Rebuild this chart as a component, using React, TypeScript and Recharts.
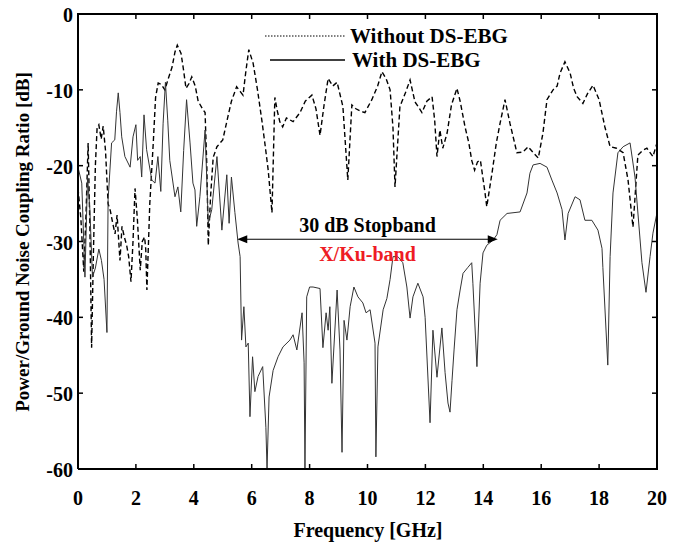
import { LineChart, Line, XAxis, YAxis, ReferenceLine } from 'recharts'

// Without DS-EBG (dashed)
const withoutFreq = [
  0, 0.1, 0.2, 0.28, 0.35, 0.41, 0.47, 0.53, 0.6, 0.66, 0.72, 0.8, 0.87, 0.95, 1.04, 1.12, 1.2, 1.28, 1.35, 1.45,
  1.52, 1.6, 1.68, 1.75, 1.83, 1.9, 1.97, 2.05, 2.15, 2.22, 2.3, 2.34, 2.38, 2.48, 2.6, 2.68, 2.77, 2.88, 3.0, 3.12,
  3.25, 3.35, 3.43, 3.56, 3.65, 3.73, 3.83, 3.93, 4.05, 4.15, 4.3, 4.39, 4.45, 4.5, 4.58, 4.67, 4.8, 5.0, 5.18, 5.3,
  5.48, 5.6, 5.7, 5.8, 5.9, 6.05, 6.2, 6.35, 6.47, 6.57, 6.7, 6.8, 6.88, 6.97, 7.07, 7.2, 7.43, 7.67, 7.85, 8.08,
  8.22, 8.36, 8.5, 8.64, 8.8, 8.95, 9.15, 9.32, 9.46, 9.6, 9.75, 9.91, 10.15, 10.35, 10.5, 10.65, 10.78, 10.88, 10.95, 11.12,
  11.3, 11.47, 11.64, 11.75, 11.88, 12.05, 12.23, 12.32, 12.4, 12.5, 12.6, 12.75, 12.9, 13.09, 13.2, 13.37, 13.5, 13.6, 13.7, 13.8,
  13.9, 14.06, 14.12, 14.3, 14.45, 14.58, 14.75, 14.92, 15.05, 15.16, 15.37, 15.55, 15.73, 15.9, 16.06, 16.2, 16.41, 16.55, 16.65, 16.82,
  17.0, 17.12, 17.24, 17.44, 17.6, 17.79, 18.0, 18.2, 18.38, 18.6, 18.83, 19.0, 19.17, 19.34, 19.5, 19.65, 19.86, 20.0,
]
const withoutDb = [
  -23, -27, -34, -26, -17, -28, -44, -32, -20, -15, -14.6, -16.5, -14.8, -18, -25, -26, -27.6, -29, -26.5, -32.5,
  -28, -29.4, -30.5, -32, -35.3, -30, -23, -27, -33.8, -30, -29.4, -31, -36.4, -25, -17, -11, -9.1, -9.3, -10, -8.5,
  -7, -5, -4.1, -5.2, -7.5, -9.8, -9.2, -8.3, -9.5, -11.5, -12.5, -13, -20, -30.5, -24, -18.9, -17.5, -16.6, -13.5, -11.5,
  -9.6, -10.2, -10.7, -7.5, -4.7, -6.5, -10, -14, -17.5, -20.6, -26.2, -11, -12.7, -14.2, -14.9, -13.7, -14.2, -13, -11.5, -10.7,
  -12.5, -16, -12, -8.5, -9.5, -9, -12.2, -21.9, -12, -12.5, -12.8, -13, -11.3, -9.5, -7.6, -8.6, -10, -15, -22.8, -12.2,
  -10.5, -8.7, -11.6, -12.2, -13, -11.5, -10.9, -14, -18.8, -15.3, -17.7, -15.7, -12, -9.8, -11.5, -14.9, -17, -19.3, -20.6, -19.5,
  -19.3, -23.6, -25.4, -21, -17, -14.4, -11.3, -14.4, -16.5, -18.3, -18.2, -17.5, -18.3, -19, -15.7, -11.3, -10, -9.5, -7.8, -6.3,
  -7.8, -9.8, -10.9, -11.8, -10.5, -9.4, -11.3, -14.9, -17.5, -17.7, -18.3, -21.9, -28.1, -18.6, -18, -17.7, -18.8, -17,
]

// With DS-EBG (solid)
const withFreq = [
  0, 0.13, 0.24, 0.33, 0.41, 0.5, 0.6, 0.72, 0.81, 0.9, 1.0, 1.04, 1.16, 1.27, 1.33, 1.39, 1.45, 1.51, 1.62, 1.8,
  1.9, 2.0, 2.06, 2.15, 2.2, 2.28, 2.37, 2.55, 2.66, 2.76, 2.86, 2.94, 3.02, 3.1, 3.17, 3.35, 3.45, 3.55, 3.65, 3.75,
  3.87, 3.97, 4.04, 4.1, 4.21, 4.39, 4.5, 4.62, 4.8, 4.97, 5.14, 5.22, 5.3, 5.42, 5.53, 5.6, 5.65, 5.73, 5.8, 5.88,
  5.94, 6.03, 6.11, 6.22, 6.38, 6.49, 6.53, 6.6, 6.74, 6.91, 7.08, 7.32, 7.43, 7.56, 7.74, 7.81, 7.84, 7.9, 8.0, 8.12,
  8.36, 8.46, 8.57, 8.64, 8.7, 8.77, 8.95, 9.05, 9.12, 9.19, 9.29, 9.4, 9.53, 9.67, 9.84, 9.95, 10.09, 10.26, 10.29, 10.36,
  10.54, 10.67, 10.78, 10.88, 11.05, 11.22, 11.36, 11.47, 11.57, 11.74, 11.92, 11.99, 12.16, 12.26, 12.4, 12.57, 12.68, 12.78, 12.85, 12.92,
  12.99, 13.09, 13.2, 13.3, 13.47, 13.6, 13.64, 13.78, 13.89, 13.99, 14.12, 14.34, 14.47, 14.58, 14.82, 15.27, 15.51, 15.61, 15.72, 15.96,
  16.2, 16.37, 16.55, 16.72, 16.82, 16.93, 17.17, 17.34, 17.51, 17.75, 17.96, 18.1, 18.13, 18.3, 18.38, 18.48, 18.65, 18.83, 19.07, 19.24,
  19.48, 19.62, 19.76, 19.86, 20,
]
const withDb = [
  -20.2, -22.3, -34.7, -21.5, -25.8, -34.7, -33.5, -31, -32.5, -35, -42, -24.5, -17, -16.6, -12.9, -10.4, -13, -16.2, -18.8, -20.2,
  -16.2, -14.6, -19.3, -18.8, -21.5, -13.3, -17.9, -21.9, -22.3, -18.8, -23.4, -14.4, -9, -14, -19.3, -24.1, -22.8, -26.1, -18, -11.3,
  -17, -22.3, -23.2, -28, -24.1, -15.3, -27.6, -25.8, -18.8, -28.5, -21.2, -27.6, -21.5, -26.2, -30.2, -32, -43, -38.6, -43.9, -43.4,
  -53.1, -45.2, -49.8, -47.8, -46.5, -54.5, -60, -50.5, -47, -45.2, -43.9, -43, -42.3, -44.3, -39.4, -46, -60, -37.3, -36, -36,
  -36.2, -44, -39.4, -41.7, -38.6, -48.7, -36.4, -44.3, -57.8, -40.4, -43, -38.6, -36, -37.3, -38.1, -39.4, -39, -43.4, -58.4, -43.9,
  -39, -37.5, -35, -32, -32, -32.8, -36, -40.1, -37.3, -35.5, -37.3, -40, -53.9, -41.7, -47.9, -41.4, -47.3, -51.3, -52.5, -48.3,
  -44.3, -39, -36.4, -34.2, -33.4, -32.8, -35.5, -46.5, -35.5, -31.5, -30.5, -29.8, -29.1, -27.2, -26.3, -26.1, -23.6, -21, -19.9, -19.7,
  -20.2, -21.9, -23.6, -25.8, -29.8, -26.3, -24.1, -24.5, -27.2, -27.2, -28.5, -30.9, -33.4, -46.3, -32, -23.6, -18.3, -17.5, -17, -21.5,
  -32.8, -36.7, -32, -28.9, -26.2,
]

const freqTicks = [0, 2, 4, 6, 8, 10, 12, 14, 16, 18, 20]
const dbTicks = [-60, -50, -40, -30, -20, -10, 0]
const freqMin = 0
const freqMax = 20
const dbMin = -60
const dbMax = 0

// stopband arrow
const stopStart = 5.5
const stopEnd = 14.5
const stopLevel = -29.7

const withoutData = withoutFreq.map((f, i) => ({ f, db: withoutDb[i] }))
const withData = withFreq.map((f, i) => ({ f, db: withDb[i] }))

// chart box (same numbers feed the LineChart margins)
const W = 683
const H = 548
const M = { top: 14, right: 26, left: 18, bottom: 39 }
const Y_AXIS_W = 60
const X_AXIS_H = 40
const plotLeft = M.left + Y_AXIS_W
const plotRight = W - M.right
const plotTop = M.top
const plotBottom = H - M.bottom - X_AXIS_H

const FONT = '"Liberation Serif", "Times New Roman", serif'

const XTick = ({ x, y, payload }: any) => (
  <g>
    <line x1={x} y1={y} x2={x} y2={y - 5} stroke="#000" strokeWidth={1.5} />
    <text x={x} y={y + 29} textAnchor="middle" dominantBaseline="central" fontFamily={FONT} fontWeight="bold" fontSize={20} fill="#000">
      {payload.value}
    </text>
  </g>
)

const YTick = ({ x, y, payload }: any) => (
  <g>
    <line x1={x} y1={y} x2={x + 5} y2={y} stroke="#000" strokeWidth={1.5} />
    <text x={x - 5} y={y + 1} textAnchor="end" dominantBaseline="central" fontFamily={FONT} fontWeight="bold" fontSize={20} fill="#000">
      {payload.value}
    </text>
  </g>
)

const StopbandArrow = ({ x1, y1, x2, y2 }: any) => {
  const cx = (x1 + x2) / 2
  return (
    <g>
      <line x1={x1 + 8} y1={y1} x2={x2 - 8} y2={y2} stroke="#000" strokeWidth={1.2} />
      <polygon points={`${x1},${y1} ${x1 + 10},${y1 - 4} ${x1 + 10},${y1 + 4}`} fill="#000" />
      <polygon points={`${x2},${y2} ${x2 - 10},${y2 - 4} ${x2 - 10},${y2 + 4}`} fill="#000" />
      <text x={cx} y={y1 - 14} textAnchor="middle" dominantBaseline="central" fontFamily={FONT} fontWeight="bold" fontSize={20} fill="#000">
        30 dB Stopband
      </text>
      <text x={cx} y={y1 + 15} textAnchor="middle" dominantBaseline="central" fontFamily={FONT} fontWeight="bold" fontSize={20} fill="#ee1c24">
        X/Ku-band
      </text>
    </g>
  )
}

// top/right edges of the MATLAB-style box, with inward ticks
const Frame = () => {
  const fx = (f: number) => plotLeft + ((f - freqMin) / (freqMax - freqMin)) * (plotRight - plotLeft)
  const dy = (d: number) => plotTop + ((dbMax - d) / (dbMax - dbMin)) * (plotBottom - plotTop)
  return (
    <g>
      <line x1={plotLeft - 1} y1={plotTop} x2={plotRight + 1} y2={plotTop} stroke="#000" strokeWidth={2} />
      <line x1={plotRight} y1={plotTop} x2={plotRight} y2={plotBottom + 1} stroke="#000" strokeWidth={2} />
      {freqTicks.map((t) => (
        <line key={`t${t}`} x1={fx(t)} y1={plotTop} x2={fx(t)} y2={plotTop + 5} stroke="#000" strokeWidth={1.5} />
      ))}
      {dbTicks.map((t) => (
        <line key={`r${t}`} x1={plotRight} y1={dy(t)} x2={plotRight - 5} y2={dy(t)} stroke="#000" strokeWidth={1.5} />
      ))}
    </g>
  )
}

export default function App() {
  return (
    <div style={{ position: 'absolute', left: 0, top: 0, width: W, height: H, background: '#fff' }}>
      <LineChart width={W} height={H} margin={M}>
        <XAxis
          dataKey="f"
          type="number"
          domain={[freqMin, freqMax]}
          ticks={freqTicks}
          interval={0}
          height={X_AXIS_H}
          tickSize={0}
          tickMargin={0}
          axisLine={{ stroke: '#000', strokeWidth: 2 }}
          tick={<XTick />}
          allowDataOverflow
        />
        <YAxis
          type="number"
          domain={[dbMin, dbMax]}
          ticks={dbTicks}
          interval={0}
          width={Y_AXIS_W}
          tickSize={0}
          tickMargin={0}
          axisLine={{ stroke: '#000', strokeWidth: 2 }}
          tick={<YTick />}
          allowDataOverflow
        />
        <Line
          data={withoutData}
          dataKey="db"
          type="linear"
          stroke="#000"
          strokeWidth={1.4}
          strokeDasharray="5 3"
          dot={false}
          isAnimationActive={false}
          name="Without DS-EBG"
        />
        <Line
          data={withData}
          dataKey="db"
          type="linear"
          stroke="#333"
          strokeWidth={1}
          dot={false}
          isAnimationActive={false}
          name="With DS-EBG"
        />
        <ReferenceLine
          ifOverflow="visible"
          segment={[
            { x: stopStart, y: stopLevel },
            { x: stopEnd, y: stopLevel },
          ]}
          shape={<StopbandArrow />}
        />
      </LineChart>
      <svg width={W} height={H} style={{ position: 'absolute', left: 0, top: 0, pointerEvents: 'none' }}>
        <Frame />
        <line x1={265} y1={36} x2={345} y2={36} stroke="#000" strokeWidth={1} strokeDasharray="1.5 1.5" />
        <text x={350} y={36} dominantBaseline="central" fontFamily={FONT} fontWeight="bold" fontSize={21} fill="#000">
          Without DS-EBG
        </text>
        <line x1={270} y1={60} x2={345} y2={60} stroke="#000" strokeWidth={1.5} />
        <text x={352} y={60} dominantBaseline="central" fontFamily={FONT} fontWeight="bold" fontSize={21} fill="#000">
          With DS-EBG
        </text>
        <text
          x={368}
          y={530}
          textAnchor="middle"
          dominantBaseline="central"
          fontFamily={FONT}
          fontWeight="bold"
          fontSize={20}
          fill="#000"
        >
          Frequency [GHz]
        </text>
        <text
          x={22}
          y={242}
          transform="rotate(-90 22 242)"
          textAnchor="middle"
          dominantBaseline="central"
          fontFamily={FONT}
          fontWeight="bold"
          fontSize={19}
          fill="#000"
        >
          Power/Ground Noise Coupling Ratio [dB]
        </text>
      </svg>
    </div>
  )
}
